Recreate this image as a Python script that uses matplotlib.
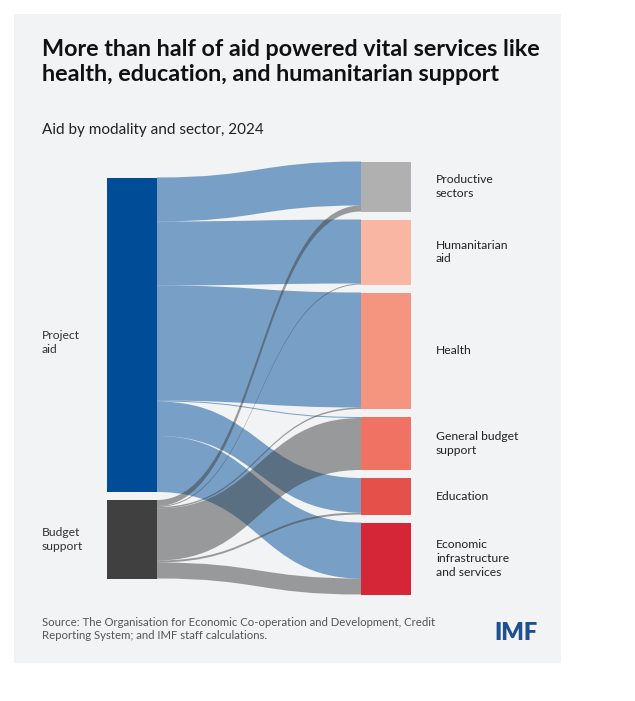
import matplotlib.pyplot as plt
from matplotlib.path import Path
from matplotlib.patches import PathPatch, Rectangle

plt.rcParams["font.family"] = ["Lato", "DejaVu Sans"]

# Data
sources = ["Project\naid", "Budget\nsupport"]
targets = [
    "Productive\nsectors",
    "Humanitarian\naid",
    "Health",
    "General budget\nsupport",
    "Education",
    "Economic\ninfrastructure\nand services",
]
project_flows = [44, 64, 115, 1, 34.5, 56]
budget_flows = [6, 1, 1.5, 52, 2, 16]
flows = [project_flows, budget_flows]

source_colors = ["#004C97", "#404040"]
target_colors = ["#B0B0B0", "#F8B6A3", "#F5957F", "#F07262", "#E5504A", "#D52638"]

# Layout (pixel coordinates)
W, H = 635, 701
gap = 8
center_y = 378
left_x0, right_x0, node_w = 107, 361, 50

fig = plt.figure(figsize=(W / 100, H / 100), dpi=100)
fig.patch.set_facecolor("white")
ax = fig.add_axes([0, 0, 1, 1])
ax.set_xlim(0, W)
ax.set_ylim(H, 0)
ax.axis("off")

ax.add_patch(Rectangle((14, 14), 547, 649, facecolor="#F2F3F5", edgecolor="none", zorder=0))

source_tot = [sum(f) for f in flows]
target_tot = [sum(f[j] for f in flows) for j in range(len(targets))]


def stack(totals):
    span = sum(totals) + gap * (len(totals) - 1)
    y = center_y - span / 2
    tops = []
    for t in totals:
        tops.append(y)
        y += t + gap
    return tops


src_top = stack(source_tot)
tgt_top = stack(target_tot)

# Flows
src_cursor = list(src_top)
tgt_cursor = list(tgt_top)
x0 = left_x0 + node_w
x1 = right_x0
xm = (x0 + x1) / 2
for i, row in enumerate(flows):
    for j, v in enumerate(row):
        s0, s1 = src_cursor[i], src_cursor[i] + v
        t0, t1 = tgt_cursor[j], tgt_cursor[j] + v
        src_cursor[i] = s1
        tgt_cursor[j] = t1
        verts = [
            (x0, s0), (xm, s0), (xm, t0), (x1, t0),
            (x1, t1),
            (xm, t1), (xm, s1), (x0, s1),
            (x0, s0),
        ]
        codes = [Path.MOVETO, Path.CURVE4, Path.CURVE4, Path.CURVE4,
                 Path.LINETO,
                 Path.CURVE4, Path.CURVE4, Path.CURVE4,
                 Path.CLOSEPOLY]
        ax.add_patch(PathPatch(Path(verts, codes), facecolor=source_colors[i],
                               edgecolor="none", alpha=0.5, zorder=2))

# Nodes and labels
for i, name in enumerate(sources):
    ax.add_patch(Rectangle((left_x0, src_top[i]), node_w, source_tot[i],
                           facecolor=source_colors[i], edgecolor="none", zorder=3))
    ax.text(42, src_top[i] + source_tot[i] / 2 + (8 if i == 0 else 0), name,
            fontsize=8.7, color="#333333", va="center", ha="left", linespacing=1.3)

for j, name in enumerate(targets):
    ax.add_patch(Rectangle((right_x0, tgt_top[j]), node_w, target_tot[j],
                           facecolor=target_colors[j], edgecolor="none", zorder=3))
    ax.text(436, tgt_top[j] + target_tot[j] / 2, name,
            fontsize=8.7, color="#222222", va="center", ha="left", linespacing=1.3)

# Titles and notes
ax.text(42, 62, "More than half of aid powered vital services like\nhealth, education, and humanitarian support",
        fontsize=16.8, fontweight="bold", color="#111111", va="center", ha="left", linespacing=1.25)
ax.text(42, 130, "Aid by modality and sector, 2024", fontsize=11, color="#222222",
        va="center", ha="left")
ax.text(42, 629, "Source: The Organisation for Economic Co-operation and Development, Credit\n"
        "Reporting System; and IMF staff calculations.",
        fontsize=8.2, color="#555555", va="center", ha="left", linespacing=1.2)
ax.text(538, 633, "IMF", fontsize=17, fontweight="heavy", color="#1D4F91",
        va="center", ha="right")

fig.savefig("out.png", dpi=100)
